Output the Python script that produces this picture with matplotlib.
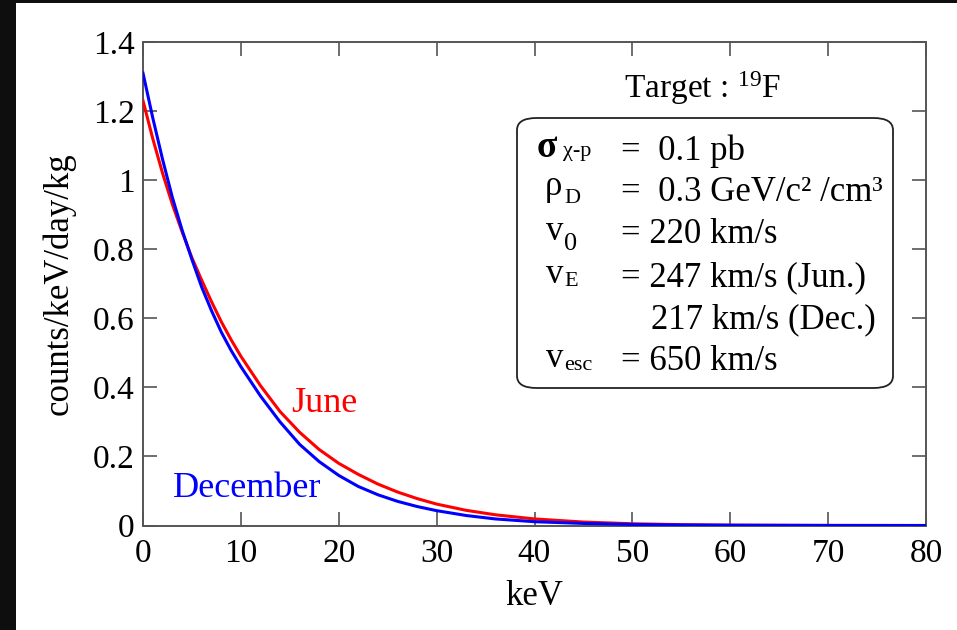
import numpy as np
import matplotlib
matplotlib.use("Agg")
import matplotlib.pyplot as plt
from matplotlib.patches import Rectangle, FancyBboxPatch

plt.rcParams['font.family'] = ['Liberation Serif', 'DejaVu Serif']
plt.rcParams['mathtext.fontset'] = 'custom'
plt.rcParams['mathtext.rm'] = 'Liberation Serif'

# ---------------- data ----------------
energy_kev = [0, 1, 2, 3, 4, 5, 6, 7, 8, 9, 10, 12, 14, 16, 18, 20, 22, 24,
              26, 28, 30, 33, 36, 40, 45, 50, 55, 60, 70, 80]
june = [1.23, 1.12, 1.02, 0.93, 0.85, 0.775, 0.71, 0.648, 0.59, 0.538, 0.49,
        0.405, 0.33, 0.27, 0.22, 0.18, 0.148, 0.12, 0.097, 0.078, 0.062,
        0.044, 0.031, 0.019, 0.010, 0.005, 0.0025, 0.0012, 0.0003, 0.0]
december = [1.31, 1.18, 1.06, 0.95, 0.855, 0.77, 0.69, 0.622, 0.56, 0.507,
             0.46, 0.375, 0.30, 0.235, 0.185, 0.145, 0.113, 0.089, 0.070,
             0.055, 0.043, 0.029, 0.019, 0.011, 0.006, 0.003, 0.0013, 0.0006,
             0.0001, 0.0]

x_ticks = [0, 10, 20, 30, 40, 50, 60, 70, 80]
y_ticks = [0, 0.2, 0.4, 0.6, 0.8, 1.0, 1.2, 1.4]
y_tick_labels = ['0', '0.2', '0.4', '0.6', '0.8', '1', '1.2', '1.4']

W, H = 957, 630
fig = plt.figure(figsize=(W / 100, H / 100), dpi=100, facecolor='#0e0e0e')
# white slide area
fig.patches.append(Rectangle((16 / W, 0), 1 - 16 / W, 1 - 3 / H,
                             transform=fig.transFigure, facecolor='white',
                             edgecolor='none', zorder=-10))

x0, x1, y0, y1 = 143, 926, 42, 525.5
ax = fig.add_axes([x0 / W, 1 - y1 / H, (x1 - x0) / W, (y1 - y0) / H])
ax.set_zorder(5)
ax.set_facecolor('none')

ax.plot(energy_kev, june, color='#ff0000', lw=2.2, zorder=3)
ax.plot(energy_kev, december, color='#0000ff', lw=2.2, zorder=3)

ax.set_xlim(0, 80)
ax.set_ylim(0, 1.4)
ax.set_xticks(x_ticks)
ax.set_yticks(y_ticks)
ax.set_yticklabels(y_tick_labels)
ax.tick_params(direction='in', length=10, width=1.2, color='#555555',
               top=True, right=True, labelsize=24, pad=6)
ax.tick_params(axis='x', pad=9)
for s in ax.spines.values():
    s.set_color('#555555')
    s.set_linewidth(1.4)

ax.set_xlabel('keV', fontsize=25, labelpad=8)
ax.set_ylabel('counts/keV/day/kg', fontsize=25, labelpad=12)

# curve labels
def px(xp, yp):
    return ((xp - x0) / (x1 - x0), (y1 - yp) / (y1 - y0))

ax.text(*px(291, 412), 'June', color='#ff0000', fontsize=26,
        transform=ax.transAxes, va='baseline')
ax.text(*px(173, 497), 'December', color='#0000ff', fontsize=26,
        transform=ax.transAxes, va='baseline')

# target
ax.text(*px(702, 98), r'Target : $\mathrm{^{19}F}$', fontsize=24,
        transform=ax.transAxes, ha='center', va='baseline')

# parameter box
bx0, by0, bx1, by1 = 517, 118, 893, 388
box = FancyBboxPatch(((bx0 - x0) / (x1 - x0), (y1 - by1) / (y1 - y0)),
                     (bx1 - bx0) / (x1 - x0), (by1 - by0) / (y1 - y0),
                     boxstyle='round,pad=0,rounding_size=0.025',
                     transform=ax.transAxes, facecolor='white',
                     edgecolor='#222222', lw=1.3, zorder=4)
ax.add_patch(box)

big, small = 25, 16
rows = [
    # symbol, sx, sub, subx, sub dy, value text, value x, baseline
    ('σ', 537, 'χ-p', 563, -4, '=  0.1 pb', 621, 160),
    ('ρ', 545, 'D', 564, 2, '=  0.3 GeV/c² /cm³', 621, 201),
    ('v', 546, '0', 564, 7, '= 220 km/s', 621, 243),
    ('v', 546, 'E', 564, 0, '= 247 km/s (Jun.)', 621, 286),
    ('', 0, '', 0, 0, '217 km/s (Dec.)', 651, 328),
    ('v', 546, 'esc', 564, 0, '= 650 km/s', 621, 370),
]
for sym, sx, sub, subx, dy, val, vx, base in rows:
    if sym:
        ax.text(*px(sx, base - 3 if sym != 'ρ' else base - 6), sym,
                fontsize=big + 2 if sym == 'σ' else big,
                fontweight='bold' if sym == 'σ' else 'normal',
                transform=ax.transAxes, va='baseline', zorder=5)
        ax.text(*px(subx, base + dy), sub, fontsize=small if sub != '0' else 19,
                transform=ax.transAxes, va='baseline', zorder=5)
    ax.text(*px(vx, base), val, fontsize=big, transform=ax.transAxes,
            va='baseline', zorder=5)

fig.savefig('out.png', dpi=100, facecolor=fig.get_facecolor())
